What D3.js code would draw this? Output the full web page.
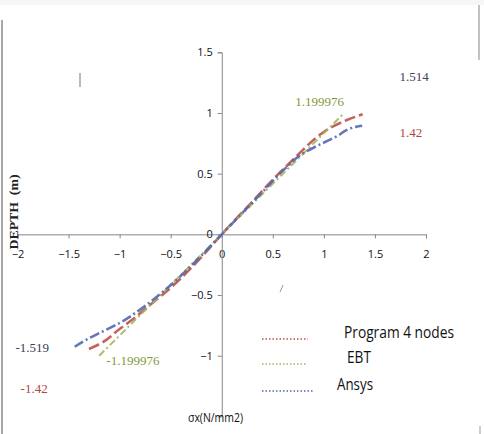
<!DOCTYPE html>
<html>
<head>
<meta charset="utf-8">
<script src="https://cdn.jsdelivr.net/npm/d3@7"></script>
<style>
  body { margin: 0; background: #fff; }
  svg { display: block; }
</style>
</head>
<body>
<script>
var width = 484, height = 434

// data (stress in N/mm2, depth in m)
var progStress = [-1.30, -1.19, -1.00, -0.88, -0.70, -0.50, -0.28, 0, 0.30, 0.50, 0.68, 0.80, 0.96, 1.09, 1.22, 1.38]
var progDepth  = [-0.945, -0.90, -0.78, -0.706, -0.58, -0.44, -0.26, 0, 0.27, 0.45, 0.60, 0.70, 0.82, 0.89, 0.94, 0.99]
var ebtStress  = [-1.2, -0.6, 0, 0.6, 1.2]
var ebtDepth   = [-1.0, -0.5, 0, 0.5, 1.0]
var ansStress  = [-1.44, -1.32, -1.19, -1.00, -0.80, -0.60, -0.30, 0, 0.40, 0.63, 0.80, 0.96, 1.12, 1.32, 1.375]
var ansDepth   = [-0.926, -0.865, -0.81, -0.73, -0.62, -0.49, -0.26, 0, 0.35, 0.55, 0.67, 0.74, 0.805, 0.887, 0.895]

var xTicks = [-2, -1.5, -1, -0.5, 0, 0.5, 1, 1.5, 2]
var yTicks = [-1, -0.5, 0, 0.5, 1, 1.5]

var seriesNames = ["Program 4 nodes", "EBT", "Ansys"]
var seriesColors = ["#c0504d", "#9bbb59", "#5567b0"]

// value labels beside the curve ends
var endLabels = [
  {text: "1.514", x: 1.74, y: 1.265, color: "#404060"},
  {text: "1.199976", x: 0.72, y: 1.06, color: "#7f9a3a"},
  {text: "1.42", x: 1.74, y: 0.80, color: "#b04545"},
  {text: "-1.519", x: -2.02, y: -0.97, color: "#404050"},
  {text: "-1.199976", x: -1.13, y: -1.08, color: "#7f9a3a"},
  {text: "-1.42", x: -1.97, y: -1.31, color: "#b04545"}
]

var svg = d3.select("body").append("svg")
            .attr("width", width)
            .attr("height", height)

var x = d3.scaleLinear().domain([-2, 2]).range([17.5, 426])
var y = d3.scaleLinear().domain([-1.5, 1.5]).range([416.4, 52.3])

// frame left over from the original picture
svg.append("line").attr("x1", 2).attr("y1", 20).attr("x2", 2).attr("y2", height)
   .attr("stroke", "#8a8a8a").attr("stroke-width", 1.5)
svg.append("line").attr("x1", 479).attr("y1", 0).attr("x2", 479).attr("y2", 60)
   .attr("stroke", "#9a9a9a").attr("stroke-width", 1.2)
svg.append("line").attr("x1", 480).attr("y1", 426).attr("x2", 480).attr("y2", height)
   .attr("stroke", "#9a9a9a").attr("stroke-width", 1)
svg.append("rect").attr("x", 0).attr("y", 0).attr("width", width).attr("height", 5)
   .attr("fill", "#f7f7f7")

// stray marks
svg.append("line").attr("x1", 80).attr("y1", 73).attr("x2", 80).attr("y2", 87)
   .attr("stroke", "#777").attr("stroke-width", 1)
svg.append("line").attr("x1", 280).attr("y1", 292).attr("x2", 283).attr("y2", 285)
   .attr("stroke", "#999").attr("stroke-width", 1)

// axes crossing at the origin
var xAxis = svg.append("g")
    .attr("transform", "translate(0," + y(0) + ")")
    .call(d3.axisBottom(x).tickValues(xTicks).tickSize(4).tickFormat(d3.format("")))
var yAxis = svg.append("g")
    .attr("transform", "translate(" + x(0) + ",0)")
    .call(d3.axisLeft(y).tickValues(yTicks).tickSize(4).tickFormat(d3.format("")))

xAxis.select(".domain").attr("stroke", "#868686")
yAxis.select(".domain").attr("stroke", "#868686")
svg.selectAll(".tick line").attr("stroke", "#868686")
svg.selectAll(".tick text")
   .attr("font-family", "'Open Sans', sans-serif")
   .attr("font-size", 11)
   .attr("fill", "#111")
xAxis.selectAll(".tick text").attr("dy", "1.0em").attr("y", 13)
yAxis.selectAll(".tick text").attr("x", -9)

// axis titles
svg.append("text")
   .attr("transform", "translate(18," + 212 + ") rotate(-90)")
   .attr("text-anchor", "middle")
   .attr("font-family", "'Liberation Serif', serif")
   .attr("font-weight", "bold")
   .attr("font-size", 13)
   .attr("fill", "#222")
   .attr("xml:space", "preserve")
   .attr("textLength", 75)
   .attr("lengthAdjust", "spacingAndGlyphs")
   .text("DEPTH  (m)")

svg.append("text")
   .attr("x", 188).attr("y", 422)
   .attr("font-family", "'Open Sans', sans-serif")
   .attr("font-size", 12)
   .attr("fill", "#111")
   .attr("textLength", 55)
   .attr("lengthAdjust", "spacingAndGlyphs")
   .text("σx(N/mm2)")

// curves
var line = d3.line().x(function(d) { return x(d[0]) }).y(function(d) { return y(d[1]) })
    .curve(d3.curveMonotoneY)

var curves = [
  {pts: d3.zip(progStress, progDepth), dash: "11,4", w: 2.6},
  {pts: d3.zip(ebtStress, ebtDepth), dash: "7,3,2,3", w: 2.0},
  {pts: d3.zip(ansStress, ansDepth), dash: "10,3,2,3", w: 2.6}
]

svg.selectAll(".curve")
   .data(curves)
   .enter().append("path")
   .attr("class", "curve")
   .attr("d", function(d) { return line(d.pts) })
   .attr("fill", "none")
   .attr("stroke", function(d, i) { return seriesColors[i] })
   .attr("stroke-width", function(d) { return d.w })
   .attr("stroke-dasharray", function(d) { return d.dash })
   .attr("opacity", 0.9)

// value labels
svg.selectAll(".endlabel")
   .data(endLabels)
   .enter().append("text")
   .attr("class", "endlabel")
   .attr("x", function(d) { return x(d.x) })
   .attr("y", function(d) { return y(d.y) })
   .attr("font-family", "'Liberation Serif', serif")
   .attr("font-size", 13)
   .attr("fill", function(d) { return d.color })
   .text(function(d) { return d.text })

// legend
var legY = [339, 364, 391]
var legX = [344, 347, 337]
var legLen = [46, 45, 51]
var legTextLen = [110, 24, 36]
var legend = svg.selectAll(".legend")
   .data(seriesNames)
   .enter().append("g")
   .attr("class", "legend")

legend.append("line")
   .attr("x1", 262)
   .attr("x2", function(d, i) { return 262 + legLen[i] })
   .attr("y1", function(d, i) { return legY[i] })
   .attr("y2", function(d, i) { return legY[i] })
   .attr("stroke", function(d, i) { return seriesColors[i] })
   .attr("stroke-width", 1.5)
   .attr("stroke-dasharray", "1.5,2")

legend.append("text")
   .attr("x", function(d, i) { return legX[i] })
   .attr("y", function(d, i) { return legY[i] - 1 })
   .attr("font-family", "'Open Sans', sans-serif")
   .attr("font-size", 17)
   .attr("fill", "#111")
   .attr("textLength", function(d, i) { return legTextLen[i] })
   .attr("lengthAdjust", "spacingAndGlyphs")
   .text(function(d) { return d })
</script>
</body>
</html>
